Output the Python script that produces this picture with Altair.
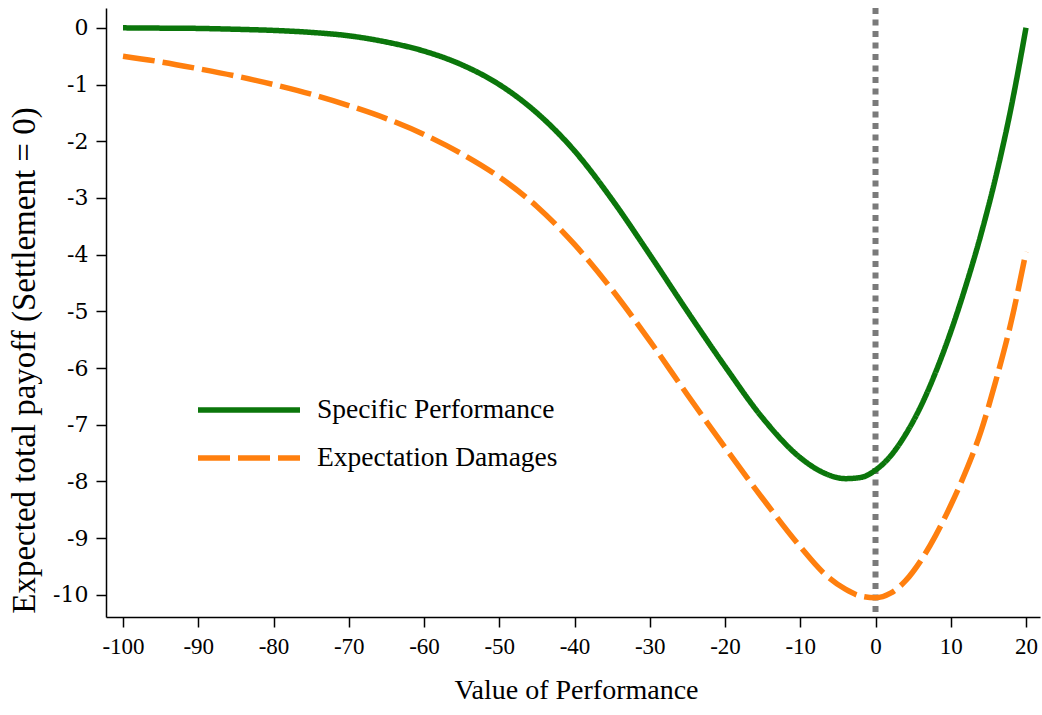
import altair as alt
import pandas as pd

# Value of performance (x) and expected total payoff for each remedy
x_vals = [-100, -95, -90, -85, -80, -75, -70, -65, -60, -55, -50, -45, -40,
          -35, -30, -25, -20, -15, -10, -7, -4, -2, 0, 2, 4, 6, 8, 10, 12,
          14, 16, 18, 20]

specific_performance = [0.00, -0.005, -0.01, -0.025, -0.045, -0.08, -0.14,
                        -0.25, -0.41, -0.65, -1.00, -1.50, -2.17, -3.03,
                        -4.00, -5.00, -5.97, -6.88, -7.58, -7.84, -7.95,
                        -7.93, -7.80, -7.55, -7.17, -6.68, -6.07, -5.36,
                        -4.55, -3.65, -2.62, -1.42, 0.00]

expectation_damages = [-0.50, -0.60, -0.72, -0.85, -1.00, -1.17, -1.37,
                       -1.60, -1.88, -2.22, -2.63, -3.15, -3.82, -4.62,
                       -5.52, -6.47, -7.40, -8.30, -9.15, -9.60, -9.90,
                       -10.02, -10.05, -9.97, -9.75, -9.40, -8.95, -8.42,
                       -7.82, -7.12, -6.22, -5.20, -3.95]

series_names = ["Specific Performance", "Expectation Damages"]
series_colors = ["#0b760b", "#ff7f0e"]
series_dashes = [[1, 0], [32, 8]]

x_ticks = list(range(-100, 21, 10))
y_ticks = list(range(0, -11, -1))

rows = []
for name, ys in zip(series_names, [specific_performance, expectation_damages]):
    for xv, yv in zip(x_vals, ys):
        rows.append({"value": xv, "payoff": yv, "remedy": name})
df = pd.DataFrame(rows)

W, H = 934, 609
SERIF = "Liberation Serif"

x_scale = alt.Scale(domain=[-102.26, 21.86], nice=False, zero=False)
y_scale = alt.Scale(domain=[-10.39, 0.35], nice=False, zero=False)

# plain hyphen for negative tick labels
hyphen_labels = "replace(datum.label, '\u2212', '-')"

x_axis = alt.Axis(
    values=x_ticks, title="Value of Performance", grid=False,
    domainColor="black", domainWidth=1.5, tickColor="black", tickWidth=1.5,
    tickSize=10, labelFont=SERIF, labelFontSize=23, labelColor="black",
    labelPadding=8, labelExpr=hyphen_labels,
    titleFont=SERIF, titleFontSize=28, titleFontWeight="normal",
    titleColor="black", titleX=W / 2 + 3, titleY=73, titleBaseline="middle",
    titleAnchor="middle", labelFlush=False,
)
y_axis = alt.Axis(
    values=y_ticks, title="Expected total payoff (Settlement = 0)", grid=False,
    domainColor="black", domainWidth=1.5, tickColor="black", tickWidth=1.5,
    tickSize=10, labelFont="DejaVu Serif", labelFontSize=22, labelColor="black",
    labelPadding=8, labelExpr=hyphen_labels,
    titleFont=SERIF, titleFontSize=33, titleFontWeight="normal",
    titleColor="black", titleX=-82, titleY=352, titleBaseline="middle",
    titleAngle=-90, titleAnchor="middle", labelFlush=False,
)

base = alt.Chart(df)

curves = base.mark_line(strokeWidth=5.5, strokeCap="butt", interpolate="monotone").encode(
    x=alt.X("value:Q", scale=x_scale, axis=x_axis),
    y=alt.Y("payoff:Q", scale=y_scale, axis=y_axis),
    color=alt.Color("remedy:N", scale=alt.Scale(domain=series_names, range=series_colors), legend=None),
    strokeDash=alt.StrokeDash("remedy:N", scale=alt.Scale(domain=series_names, range=series_dashes), legend=None),
    order=alt.Order("value:Q"),
)

zero_line = alt.Chart(pd.DataFrame({"value": [0]})).mark_rule(
    color="#7a7a7a", strokeWidth=6, strokeDash=[6, 5.5], strokeCap="butt"
).encode(x=alt.X("value:Q", scale=x_scale))

# In-plot key
key_df = pd.DataFrame({
    "remedy": series_names,
    "ky": [402, 450],
})
key_lines = alt.Chart(key_df).mark_rule(strokeWidth=5.5, strokeCap="butt").encode(
    x=alt.value(92), x2=alt.value(194),
    y=alt.Y("ky:Q", scale=None),
    color=alt.Color("remedy:N", scale=alt.Scale(domain=series_names, range=series_colors), legend=None),
    strokeDash=alt.StrokeDash("remedy:N", scale=alt.Scale(domain=series_names, range=series_dashes), legend=None),
)
key_text = alt.Chart(key_df).mark_text(
    align="left", baseline="middle", font=SERIF, fontSize=27.5, color="black"
).encode(
    x=alt.value(211),
    y=alt.Y("ky:Q", scale=None),
    text="remedy:N",
)

chart = alt.layer(zero_line, curves, key_lines, key_text).properties(
    width=W, height=H,
    autosize=alt.AutoSizeParams(type="none"),
    padding={"left": 106, "top": 8, "right": 2, "bottom": 98},
    background="white",
).configure_view(stroke=None)

chart.save("out.html", embed_options={"renderer": "svg", "actions": False})
